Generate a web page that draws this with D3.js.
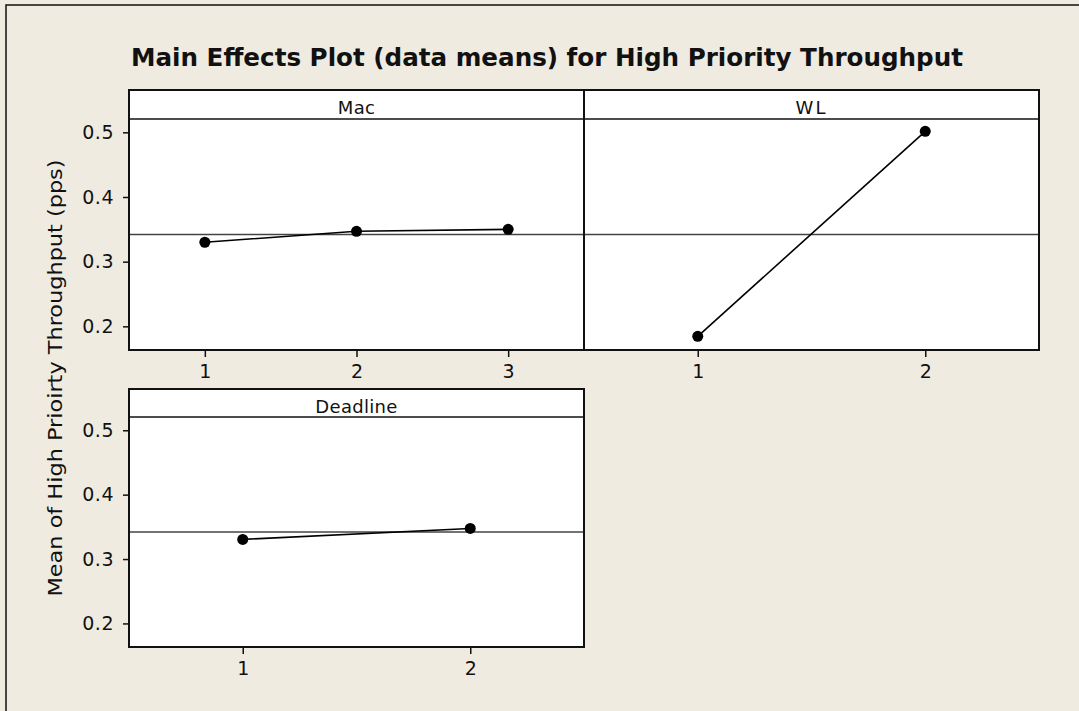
<!DOCTYPE html>
<html>
<head>
<meta charset="utf-8">
<script src="https://cdn.jsdelivr.net/npm/d3@7/dist/d3.min.js"></script>
<style>
  html, body { margin: 0; padding: 0; background: #efebe1; }
  svg { display: block; }
  text { font-family: "DejaVu Sans", "Liberation Sans", sans-serif; fill: #111; }
</style>
</head>
<body>
<svg id="chart" width="1079" height="711"></svg>
<script>
// ---- data ----
const titleText = "Main Effects Plot (data means) for High Priority Throughput";
const yAxisTitle = "Mean of High Prioirty Throughput (pps)";
const factors = ["Mac", "WL", "Deadline"];
const macLevels = [1, 2, 3];
const macMeans = [0.330, 0.347, 0.350];
const wlLevels = [1, 2];
const wlMeans = [0.1845, 0.5015];
const deadlineLevels = [1, 2];
const deadlineMeans = [0.3305, 0.3475];
const grandMean = 0.342;
const yTicks = [0.2, 0.3, 0.4, 0.5];
const yDomain = [0.1634, 0.5206];

// ---- layout ----
const W = 1079, H = 711;
const svg = d3.select("#chart");
svg.append("rect").attr("x", 0).attr("y", 0).attr("width", W).attr("height", H).attr("fill", "#efebe1");
svg.append("path").attr("d", `M6,${H + 5} L6,5 L${W + 5},5`).attr("fill", "none").attr("stroke", "#111").attr("stroke-width", 1.5);

const panels = [
  { name: factors[0], levels: macLevels, means: macMeans, x0: 129, x1: 584, y0: 90, yh: 119, y1: 350, yAxis: true },
  { name: factors[1], levels: wlLevels, means: wlMeans, x0: 584, x1: 1039, y0: 90, yh: 119, y1: 350, yAxis: false },
  { name: factors[2], levels: deadlineLevels, means: deadlineMeans, x0: 129, x1: 584, y0: 389, yh: 417, y1: 647, yAxis: true }
];

const tickFont = 19;

panels.forEach(p => {
  const g = svg.append("g");
  const x = d3.scaleLinear().domain([0.5, p.levels.length + 0.5]).range([p.x0, p.x1]);
  const y = d3.scaleLinear().domain(yDomain).range([p.y1, p.yh]);

  g.append("rect").attr("x", p.x0).attr("y", p.y0).attr("width", p.x1 - p.x0).attr("height", p.y1 - p.y0)
    .attr("fill", "#fff");

  g.append("line").attr("x1", p.x0).attr("x2", p.x1).attr("y1", y(grandMean)).attr("y2", y(grandMean))
    .attr("stroke", "#444").attr("stroke-width", 1.5);

  const pts = p.levels.map((l, i) => [l, p.means[i]]);
  g.append("path").datum(pts)
    .attr("d", d3.line().x(d => x(d[0])).y(d => y(d[1])))
    .attr("fill", "none").attr("stroke", "#000").attr("stroke-width", 1.6);
  g.selectAll("circle").data(pts).join("circle")
    .attr("cx", d => x(d[0])).attr("cy", d => y(d[1])).attr("r", 5.5).attr("fill", "#000");

  g.append("line").attr("x1", p.x0).attr("x2", p.x1).attr("y1", p.yh).attr("y2", p.yh)
    .attr("stroke", "#111").attr("stroke-width", 1.5);
  g.append("text").attr("x", (p.x0 + p.x1) / 2).attr("y", p.y0 + 24)
    .attr("text-anchor", "middle").attr("font-size", 18)
    .attr("letter-spacing", p.name === "WL" ? 2 : 0.3)
    .text(p.name);

  g.append("rect").attr("x", p.x0).attr("y", p.y0).attr("width", p.x1 - p.x0).attr("height", p.y1 - p.y0)
    .attr("fill", "none").attr("stroke", "#111").attr("stroke-width", 2);

  const xa = g.append("g").attr("transform", `translate(0,${p.y1})`)
    .call(d3.axisBottom(x).tickValues(p.levels).tickFormat(d3.format("d")).tickSize(7).tickPadding(8));
  xa.select(".domain").remove();
  xa.selectAll(".tick line").attr("stroke", "#111").attr("stroke-width", 1.5);
  xa.selectAll(".tick text").attr("font-size", tickFont).attr("font-family", "DejaVu Sans").attr("fill", "#111");

  if (p.yAxis) {
    const ya = g.append("g").attr("transform", `translate(${p.x0},0)`)
      .call(d3.axisLeft(y).tickValues(yTicks).tickFormat(d3.format(".1f")).tickSize(6).tickPadding(9));
    ya.select(".domain").remove();
    ya.selectAll(".tick line").attr("stroke", "#111").attr("stroke-width", 1.5);
    ya.selectAll(".tick text").attr("font-size", tickFont).attr("font-family", "DejaVu Sans").attr("fill", "#111")
      .attr("letter-spacing", 0.5);
  }
});

svg.append("text").attr("x", 131).attr("y", 66)
  .attr("font-size", 25).attr("font-weight", "bold")
  .attr("textLength", 832).attr("lengthAdjust", "spacingAndGlyphs")
  .text(titleText);

svg.append("text").attr("transform", "translate(62,378) rotate(-90)")
  .attr("text-anchor", "middle").attr("font-size", 19)
  .attr("textLength", 437).attr("lengthAdjust", "spacingAndGlyphs")
  .text(yAxisTitle);
</script>
</body>
</html>
